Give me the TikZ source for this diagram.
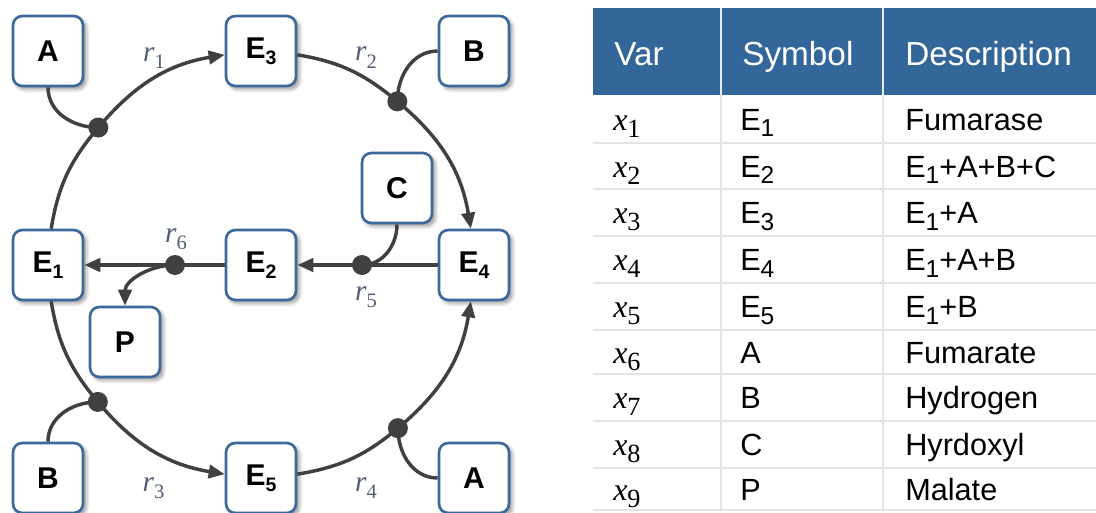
\documentclass[tikz,border=0pt]{standalone}
\usepackage{fontspec}
\usepackage{graphicx}
\setmainfont{Liberation Sans}
\newfontfamily\tnr{Liberation Serif}
\usetikzlibrary{arrows.meta,shadows.blur,calc}
\definecolor{nodeblue}{RGB}{60,105,155}
\definecolor{headblue}{RGB}{52,103,153}
\definecolor{linegray}{RGB}{64,64,64}
\definecolor{rowgray}{RGB}{228,228,228}
\definecolor{labgray}{RGB}{82,94,118}
\newcommand\nsub[1]{\raisebox{-0.2em}{\scalebox{0.65}{#1}}}
\newcommand\tsub[1]{\raisebox{-0.22em}{\scalebox{0.8}{#1}}}
\newcommand\rl[1]{{\tnr\itshape r}\raisebox{-0.25em}{\scalebox{0.7}{\tnr #1}}}
\newcommand\xl[1]{{\tnr\itshape x}\raisebox{-0.22em}{\scalebox{0.82}{\tnr #1}}}
\begin{document}
\begin{tikzpicture}[x=0.75pt,y=0.75pt,
  box/.style={draw=nodeblue, line width=2pt, fill=white, rounded corners=7pt,
    minimum width=52.5pt, minimum height=52.5pt, inner sep=0pt,
    font=\fontsize{22.5}{22.5}\selectfont\bfseries,
    blur shadow={shadow blur steps=8, shadow blur radius=3pt, shadow xshift=2.2pt, shadow yshift=-2.2pt, shadow opacity=45}},
  dot/.style={circle, fill=linegray, minimum size=15pt, inner sep=0pt},
  flow/.style={draw=linegray, line width=2.6pt},
  arr/.style={flow, -{Triangle[length=12pt,width=10pt]}},
  rlab/.style={text=labgray, inner sep=0pt, font=\fontsize{22}{22}\selectfont},
  hdr/.style={text=white, inner sep=0pt, anchor=base west, font=\fontsize{25}{25}\selectfont},
  cell/.style={text=black, inner sep=0pt, anchor=base west, font=\fontsize{23}{23}\selectfont},
  xcell/.style={text=black, inner sep=0pt, anchor=base west, font=\fontsize{24}{24}\selectfont}]
\useasboundingbox (0,0) rectangle (1096,512);

% ---------- diagram ----------
\node[box] (A1) at (48,461) {A};
\node[box] (E3) at (261,461) {E\nsub{3}};
\node[box] (B1) at (474,461) {B};
\node[box] (C)  at (397,324) {C};
\node[box] (E1) at (48,247) {E\nsub{1}};
\node[box] (E2) at (261,247) {E\nsub{2}};
\node[box] (E4) at (474,247) {E\nsub{4}};
\node[box] (P)  at (125,170) {P};
\node[box] (B2) at (48,34) {B};
\node[box] (E5) at (261,34) {E\nsub{5}};
\node[box] (A2) at (474,34) {A};

\coordinate (O) at (261,247);
\node[dot] (d1) at ($(O)+(139.8:213)$) {};
\node[dot] (d2) at ($(O)+(50.2:213)$) {};
\node[dot] (d3) at ($(O)+(220:213)$) {};
\node[dot] (d4) at ($(O)+(-50:213)$) {};
\node[dot] (d5) at (362,247) {};
\node[dot] (d6) at (175,247) {};

\draw[arr] (E1.85) to[out=80.6,in=229.8] (d1.center) to[out=49.8,in=189.5] (E3.186);
\draw[arr] (E3.354) to[out=-9.5,in=140.2] (d2.center) to[out=-39.8,in=99.4] (E4.95);
\draw[arr] (E1.275) to[out=-80.6,in=130] (d3.center) to[out=-50,in=170.5] (E5.174);
\draw[arr] (E5.6) to[out=9.5,in=220] (d4.center) to[out=40,in=260.6] (E4.265);
\draw[arr] (E4.west) -- (d5.center) -- (E2.east);
\draw[arr] (E2.west) -- (d6.center) -- (E1.east);

\draw[flow] (A1.south) to[out=-90,in=180] (d1.center);
\draw[flow] (B1.west) to[out=180,in=90] (d2.center);
\draw[flow] (B2.north) to[out=90,in=180] (d3.center);
\draw[flow] (d4.center) to[out=-90,in=180] (A2.west);
\draw[flow] (C.south) to[out=-90,in=0] (d5.center);
\draw[arr] (d6.center) to[out=180,in=90] (P.north);

\node[rlab] (lr1) at (154,454) {\rl{1}};
\node[rlab] (lr2) at (366,454.5) {\rl{2}};
\node[rlab] (lr3) at (153.5,24) {\rl{3}};
\node[rlab] (lr4) at (366,24) {\rl{4}};
\node[rlab] (lr5) at (366,215) {\rl{5}};
\node[rlab] (lr6) at (176,273) {\rl{6}};

% ---------- table ----------
\fill[headblue] (593,417) rectangle (1096,504);
\foreach \yl in {369,323,276,229,182,138,91,44,2}
  \draw[rowgray, line width=2.2pt] (593,\yl) -- (1096,\yl);
\foreach \xl in {721,883} {
  \draw[rowgray, line width=2.2pt] (\xl,2) -- (\xl,417);
  \draw[white!88!headblue, line width=2.2pt] (\xl,417) -- (\xl,504);
}
\node[hdr] (h1) at (614,447) {Var};
\node[hdr] (h2) at (742,447) {Symbol};
\node[hdr] (h3) at (905,447) {Description};

\foreach \yy/\k/\sym/\desc [count=\n] in {
  393/1/{E\tsub{1}}/{Fumarase},
  346/2/{E\tsub{2}}/{E\tsub{1}+A+B+C},
  299.5/3/{E\tsub{3}}/{E\tsub{1}+A},
  252.5/4/{E\tsub{4}}/{E\tsub{1}+A+B},
  205.5/5/{E\tsub{5}}/{E\tsub{1}+B},
  160/6/{A}/{Fumarate},
  114.5/7/{B}/{Hydrogen},
  67.5/8/{C}/{Hyrdoxyl},
  23/9/{P}/{Malate}} {
  \node[xcell] (v\n) at (613,\yy-11) {\xl{\k}};
  \node[cell] (s\n) at (740,\yy-11) {\sym};
  \node[cell] (t\n) at (905,\yy-11) {\desc};
}
\end{tikzpicture}
\end{document}
